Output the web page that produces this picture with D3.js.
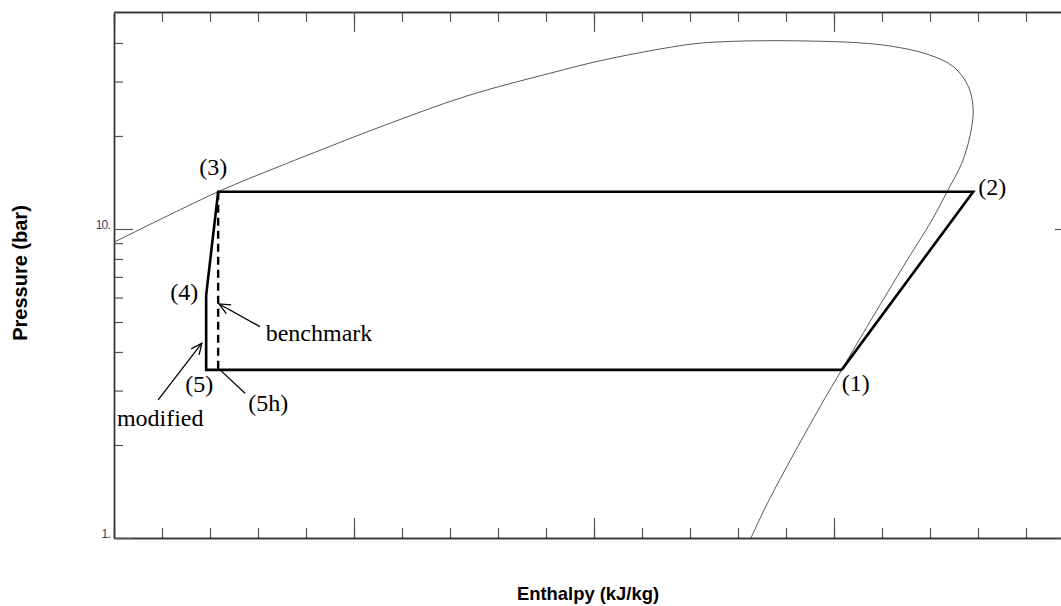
<!DOCTYPE html>
<html lang="en">
<head>
<meta charset="utf-8">
<title>P-h diagram</title>
<script src="https://d3js.org/d3.v7.min.js"></script>
<style>
  body { margin: 0; background: #fff; }
  .frame path.domain { stroke: #333; stroke-width: 1.4; }
  .frame .tick line { stroke: #555; stroke-width: 1.2; }
  .frame text { display: none; }
  .ylab { font: 12px "Liberation Sans", Arial, sans-serif; fill: #3d3d66; letter-spacing: -0.8px; }
  .title { font: bold 18.4px "Liberation Sans", Arial, sans-serif; fill: #000; }
  .lbl { font: 24px "Liberation Serif", "Times New Roman", serif; fill: #000; }
</style>
</head>
<body>
<div id="chart"></div>
<script>
// saturation dome (h in kJ/kg, P in bar)
var domeH = [250, 271.7, 284.0, 291.7, 305.6, 323.5, 340.8, 352.7, 370.0, 376.9, 386.7,
             397.1, 404.7, 411.7, 419.3, 424.9, 428.0, 429.0, 428.3, 426.6, 423.5, 420.4,
             414.4, 404.0, 401.6, 397.1, 386.5, 382.7];
var domeP = [9.06, 13.2, 15.84, 17.67, 21.43, 26.94, 31.9, 35.42, 39.6, 40.37, 40.68,
             40.5, 40.09, 39.1, 36.84, 33.51, 28.88, 24.28, 19.89, 16.31, 13.15, 10.69,
             7.55, 4.06, 3.5, 2.66, 1.33, 1.0];

// cycle state points
var stateNames = ["(1)", "(2)", "(3)", "(4)", "(5)", "(5h)"];
var stateH = [401.6, 429.0, 271.7, 269.2, 269.2, 271.7];
var stateP = [3.5, 13.2, 13.2, 6.11, 3.5, 3.5];

var modifiedPath = ["(1)", "(2)", "(3)", "(4)", "(5)", "(1)"];
var benchmarkPath = ["(3)", "(5h)"];

var xTicksMinor = d3.range(250, 451, 10);
var xTicksMajor = [250, 300, 350, 400, 450];
var yTicksMinor = [2, 3, 4, 5, 6, 7, 8, 9, 20, 30, 40];
var yTicksMajor = [1, 10];
var yTickLabels = ["1.", "10."];

var W = 1061, H = 606;
var margin = {top: 12, right: -13, bottom: 68, left: 114};
var larguraVis = W - margin.left - margin.right,
    alturaVis = H - margin.top - margin.bottom;

var svg = d3.select("#chart").append("svg")
    .attr("width", W).attr("height", H);

svg.append("defs").append("marker")
    .attr("id", "arrow")
    .attr("viewBox", "-12 -6 14 12")
    .attr("refX", 0).attr("refY", 0)
    .attr("markerWidth", 14).attr("markerHeight", 12)
    .attr("markerUnits", "userSpaceOnUse")
    .attr("orient", "auto")
  .append("path")
    .attr("d", "M-11,-5L0,0L-11,5")
    .attr("fill", "none").attr("stroke", "#000").attr("stroke-width", 1.3);

svg.append("clipPath").attr("id", "clip")
  .append("rect").attr("width", larguraVis).attr("height", alturaVis);

var g = svg.append("g")
    .attr("transform", "translate(" + margin.left + "," + margin.top + ")");

var x = d3.scaleLinear().domain([250, 450]).range([0, larguraVis]);
var y = d3.scaleLog().domain([1, 50]).range([alturaVis, 1]);

// frame and ticks (all pointing inward)
function frame(axis, tf) {
  g.append("g").attr("class", "frame").attr("transform", tf).call(axis);
}
frame(d3.axisTop(x).tickValues(xTicksMinor).tickSize(10).tickSizeOuter(0), "translate(0," + alturaVis + ")");
frame(d3.axisTop(x).tickValues(xTicksMajor).tickSize(20).tickSizeOuter(0), "translate(0," + alturaVis + ")");
frame(d3.axisBottom(x).tickValues(xTicksMinor).tickSize(10).tickSizeOuter(0), "translate(0,0)");
frame(d3.axisBottom(x).tickValues(xTicksMajor).tickSize(20).tickSizeOuter(0), "translate(0,0)");
frame(d3.axisRight(y).tickValues(yTicksMinor).tickSize(9).tickSizeOuter(0), "translate(0,0)");
frame(d3.axisRight(y).tickValues(yTicksMajor).tickSize(19).tickSizeOuter(0), "translate(0,0)");
frame(d3.axisLeft(y).tickValues(yTicksMinor).tickSize(9).tickSizeOuter(0), "translate(" + larguraVis + ",0)");
frame(d3.axisLeft(y).tickValues(yTicksMajor).tickSize(19).tickSizeOuter(0), "translate(" + larguraVis + ",0)");

g.selectAll(".ylab").data(yTicksMajor).enter().append("text")
    .attr("class", "ylab")
    .attr("x", -4).attr("y", d => y(d))
    .attr("text-anchor", "end")
    .text((d, i) => yTickLabels[i]);

// saturation dome
var dome = domeH.map((h, i) => [h, domeP[i]]);
g.append("path")
    .datum(dome)
    .attr("clip-path", "url(#clip)")
    .attr("fill", "none")
    .attr("stroke", "#444")
    .attr("stroke-width", 0.9)
    .attr("d", d3.line().x(d => x(d[0])).y(d => y(d[1])).curve(d3.curveCatmullRom));

function pt(name) {
  var i = stateNames.indexOf(name);
  return [x(stateH[i]), y(stateP[i])];
}

g.append("path")
    .attr("fill", "none").attr("stroke", "#000").attr("stroke-width", 2.6)
    .attr("stroke-linejoin", "miter")
    .attr("d", d3.line()(modifiedPath.map(pt)));

g.append("path")
    .attr("fill", "none").attr("stroke", "#000").attr("stroke-width", 2.4)
    .attr("stroke-dasharray", "8,5")
    .attr("d", d3.line()(benchmarkPath.map(pt)));

// state labels
var offs = {"(1)": [0, 21, "start"], "(2)": [5, 3, "start"], "(3)": [-5, -17, "middle"],
            "(4)": [-8, 5, "end"], "(5)": [-7, 22, "middle"], "(5h)": [30, 41, "start"]};
stateNames.forEach(function(n) {
  var p = pt(n), o = offs[n];
  g.append("text").attr("class", "lbl")
    .attr("x", p[0] + o[0]).attr("y", p[1] + o[1])
    .attr("text-anchor", o[2]).text(n);
});

// annotations
function arrow(from, to, head) {
  g.append("line")
    .attr("x1", x(from[0])).attr("y1", y(from[1]))
    .attr("x2", x(to[0])).attr("y2", y(to[1]))
    .attr("stroke", "#000").attr("stroke-width", 1.3)
    .attr("marker-end", head ? "url(#arrow)" : null);
}
arrow([280.4, 4.83], [271.9, 5.72], true);
arrow([259.2, 2.80], [268.3, 4.27], true);
arrow([277.3, 2.94], [272.1, 3.5], false);

g.append("text").attr("class", "lbl").attr("x", x(281.6)).attr("y", 329).text("benchmark");
g.append("text").attr("class", "lbl").attr("x", x(250.6)).attr("y", 414).text("modified");

// axis titles
svg.append("text").attr("class", "title")
    .attr("text-anchor", "middle")
    .attr("x", 588).attr("y", 600)
    .text("Enthalpy (kJ/kg)");
svg.append("text").attr("class", "title")
    .attr("text-anchor", "middle")
    .attr("transform", "translate(27,273) rotate(-90)")
    .style("font-size", "20px")
    .text("Pressure (bar)");
</script>
</body>
</html>
